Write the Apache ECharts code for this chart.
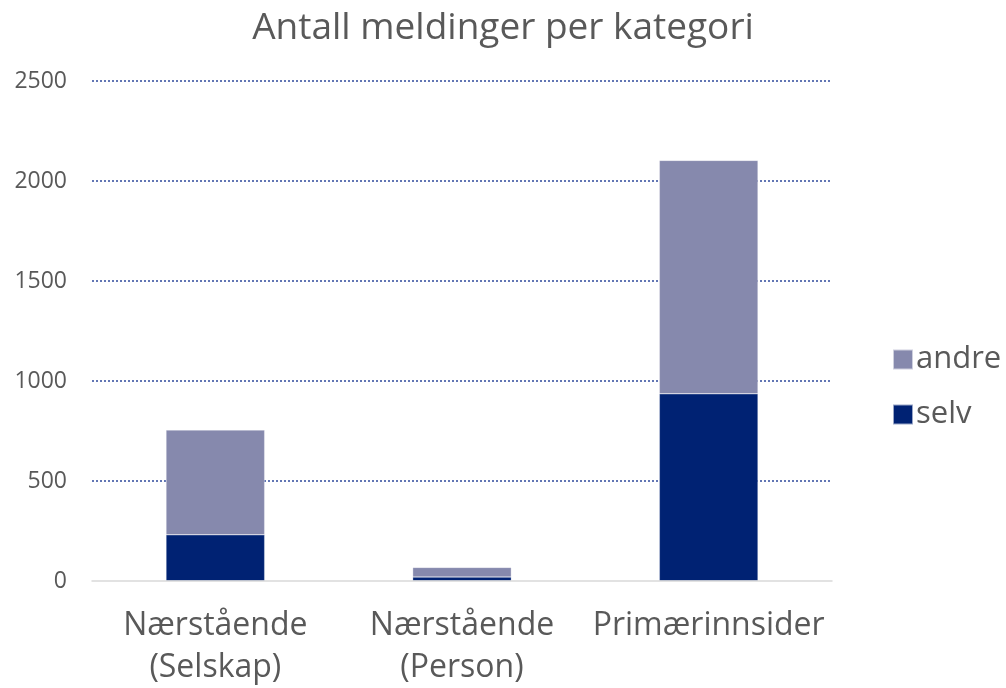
<!DOCTYPE html>
<html>
  <head>
    <meta charset="utf-8" />
    <title>Antall meldinger per kategori</title>
    <script src="https://cdn.jsdelivr.net/npm/echarts@6.0.0/dist/echarts.min.js"></script>
    <style>
      body { margin: 0; background: #fff; }
    </style>
  </head>
  <body>
    <div id="main" style="width: 1006px;height:688px;"></div>

    <script type="text/javascript">
      var categories = ['Nærstående\n(Selskap)', 'Nærstående\n(Person)', 'Primærinnsider'];
      var selv = [231, 20, 936];
      var andre = [524, 48, 1167];
      var yTicks = [0, 500, 1000, 1500, 2000, 2500];

      var chart = echarts.init(document.getElementById('main'));

      var option = {
        backgroundColor: '#ffffff',
        textStyle: { fontFamily: 'Open Sans' },
        title: {
          text: 'Antall meldinger per kategori',
          left: 'center',
          top: 5,
          textStyle: { fontSize: 37, fontWeight: 'normal', color: '#595959', fontFamily: 'Open Sans' }
        },
        legend: {
          orient: 'vertical',
          left: 887,
          top: 339,
          icon: 'rect',
          itemWidth: 20,
          itemHeight: 20,
          itemGap: 24,
          data: ['andre', 'selv'],
          textStyle: { fontSize: 31, color: '#595959', padding: [0, 0, 0, -2] }
        },
        grid: {
          left: 92,
          right: 174,
          top: 81,
          bottom: 107,
          outerBoundsMode: 'none'
        },
        xAxis: {
          type: 'category',
          data: categories,
          z: 5,
          axisTick: { show: false },
          axisLine: { lineStyle: { color: '#d9d9d9', width: 1.5 } },
          axisLabel: { fontSize: 32, color: '#595959', margin: 24, lineHeight: 42, interval: 0 }
        },
        yAxis: {
          type: 'value',
          min: yTicks[0],
          max: yTicks[yTicks.length - 1],
          interval: 500,
          axisLine: { show: false },
          axisTick: { show: false },
          axisLabel: { fontSize: 23, color: '#595959', margin: 25, formatter: function (v) { return String(v); } },
          splitLine: { showMinLine: false, lineStyle: { color: '#2f4a9c', type: [2, 2], width: 1.5 } }
        },
        series: [
          {
            name: 'selv',
            type: 'bar',
            stack: 'all',
            barWidth: '40%',
            data: selv,
            itemStyle: { color: '#002273', borderColor: 'rgba(255,255,255,0.6)', borderWidth: 0.5 }
          },
          {
            name: 'andre',
            type: 'bar',
            stack: 'all',
            data: andre,
            itemStyle: { color: '#8689ad', borderColor: 'rgba(255,255,255,0.6)', borderWidth: 0.5 }
          }
        ]
      };

      chart.setOption(option);
    </script>
  </body>
</html>
